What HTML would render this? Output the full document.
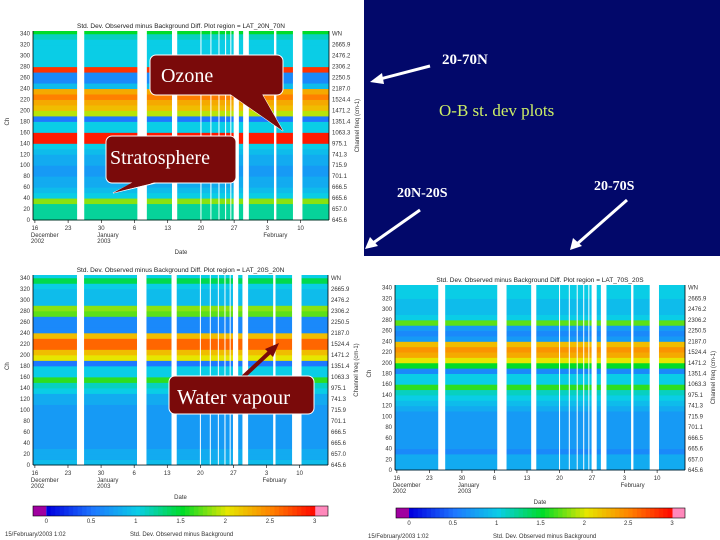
<!DOCTYPE html>
<html><head><meta charset="utf-8"><style>
html,body{margin:0;padding:0;background:#fff;}
svg{display:block;font-family:"Liberation Sans",sans-serif;}
.t{font-size:6px;fill:#333;}
</style></head><body>
<svg id="s" width="720" height="540" viewBox="0 0 720 540" xmlns="http://www.w3.org/2000/svg">
<rect x="0" y="0" width="720" height="540" fill="#fff"/>
<rect x="364" y="0" width="356" height="256" fill="#02086a"/>
<g id="plots"></g>
<g font-family="'Liberation Serif',serif" font-weight="bold">
<text x="442" y="64" font-size="15" fill="#fff">20-70N</text>
<text x="439" y="116" font-size="17" fill="#ccee66" font-weight="normal">O-B st. dev plots</text>
<text x="397" y="197" font-size="14" fill="#fff">20N-20S</text>
<text x="594" y="190" font-size="14" fill="#fff">20-70S</text>
</g>
<g stroke="#fff" stroke-width="3" fill="#fff">
<line x1="430" y1="66" x2="380" y2="79"/><polygon points="370,82 382,73 384,84" stroke="none"/>
<line x1="420" y1="210" x2="373" y2="243"/><polygon points="365,249 370,237 378,246" stroke="none"/>
<line x1="627" y1="200" x2="577" y2="244"/><polygon points="570,250 573,238 582,246" stroke="none"/>
</g>
<g font-family="'Liberation Serif',serif">
<polygon points="230,94 262,94 283,131" fill="#7a0a0a" stroke="#fff" stroke-width="1"/>
<rect x="150" y="55" width="133" height="40" rx="6" fill="#7a0a0a" stroke="#fff" stroke-width="1"/>
<polygon points="230,94 262,94 283,131" fill="#7a0a0a"/>
<text x="161" y="82" font-size="20" fill="#fff">Ozone</text>
<polygon points="135,182 160,182 113,193" fill="#7a0a0a" stroke="#fff" stroke-width="1"/>
<rect x="106" y="136" width="130" height="47" rx="6" fill="#7a0a0a" stroke="#fff" stroke-width="1"/>
<polygon points="135,181 160,181 113,193" fill="#7a0a0a"/>
<text x="110" y="164" font-size="20" fill="#fff">Stratosphere</text>
<line x1="242" y1="378" x2="272" y2="350" stroke="#7a0a0a" stroke-width="4"/>
<polygon points="279,343 265,349 273,357" fill="#7a0a0a"/>
<rect x="169" y="376" width="145" height="38" rx="6" fill="#7a0a0a" stroke="#fff" stroke-width="1"/>
<text x="177" y="404" font-size="21" fill="#fff">Water vapour</text>
</g>
</svg>
<script>
// channel bins (10 channels each, index 0 = channels 0-10), std dev values
const binsNorth=[1.2,1.2,1.2,1.8,1.0,0.9,0.8,0.8,0.7,0.7,0.8,0.8,0.9,1.0,2.9,2.9,1.0,1.0,0.5,1.9,2.2,2.3,2.5,2.3,0.9,0.6,0.6,2.8,1.0,1.0,1.0,1.0,1.0,1.1,1.5];
const binsTrop=[0.9,0.8,0.8,0.7,0.7,0.7,0.7,0.7,0.7,0.7,0.7,0.8,0.8,1.0,1.1,1.6,1.0,1.0,0.5,2.0,2.2,2.6,2.6,2.2,0.6,0.6,0.6,1.7,1.8,0.9,0.9,0.9,1.0,1.4,1.0];
const binsSouth=[0.8,0.8,0.8,0.6,0.7,0.7,0.7,0.7,0.7,0.7,0.7,0.8,0.9,1.0,1.1,1.6,1.0,1.0,0.6,1.5,2.0,2.3,2.4,2.2,0.7,0.6,0.7,1.7,1.0,0.9,0.9,0.9,1.0,1.0,1.0];
// data gaps in days since 16 Dec 2002
const gapStart=[8.9,21.6,28.9,34.9,37.0,38.7,40.1,41.2,41.9,43.9,50.4,54.4];
const gapEnd=[10.4,23.6,30.0,35.1,37.2,38.9,40.3,41.4,43.0,45.1,50.9,56.4];
const dayTicks=[0,7,14,21,28,35,42,49,56];
const dayLabels=["16","23","30","6","13","20","27","3","10"];
const chanTicks=[0,20,40,60,80,100,120,140,160,180,200,220,240,260,280,300,320,340];
const freqLabels=["645.6","657.0","665.6","666.5","701.1","715.9","741.3","975.1","1063.3","1351.4","1471.2","1524.4","2187.0","2250.5","2306.2","2476.2","2665.9","WN"];
const cbarTicks=[0,0.5,1,1.5,2,2.5,3];

const NS="http://www.w3.org/2000/svg";
const root=document.getElementById('plots');
function el(tag,attrs,parent){const e=document.createElementNS(NS,tag);for(const k in attrs)e.setAttribute(k,attrs[k]);(parent||root).appendChild(e);return e;}
const stops=[[0,[0,0,224]],[0.5,[30,120,255]],[1,[10,205,230]],[1.5,[0,220,40]],[2,[230,230,0]],[2.5,[255,128,0]],[3,[255,0,0]]];
function cmap(v){v=Math.max(0,Math.min(3,v));for(let i=1;i<stops.length;i++){if(v<=stops[i][0]){const a=stops[i-1],b=stops[i];const t=(v-a[0])/(b[0]-a[0]);const c=a[1].map((x,j)=>Math.round(x+(b[1][j]-x)*t));return 'rgb('+c.join(',')+')';}}return 'rgb(255,0,0)';}

function panel(cfg){
  const g=el('g',{});
  
  
  const {x0,x1,y0,y1}=cfg;
  const dMin=-0.4,dMax=62,cMax=345;
  const xs=d=>x0+(d-dMin)/(dMax-dMin)*(x1-x0);
  const ys=c=>y1-c/cMax*(y1-y0);
  const title=el('text',{x:(x0+x1)/2,y:y0-3,'text-anchor':'middle','font-size':6.5,fill:'#222'},g);
  title.textContent='Std. Dev. Observed minus Background Diff. Plot region = '+cfg.region;
  
  
  cfg.bins.forEach((v,i)=>{
    const top=Math.max(ys((i+1)*10),y0);
    const r=el('rect',{x:x0,y:top,width:x1-x0,height:ys(i*10)-top+0.5,fill:cmap(v)},g);
    
    
  });
  gapStart.forEach((s,i)=>{
    const r=el('rect',{x:xs(s),y:y0,width:Math.max(1,xs(gapEnd[i])-xs(s)),height:y1-y0,fill:'#fff'},g);
    
    
  });
  el('line',{x1:x0,y1:y1,x2:x1,y2:y1,stroke:'#000','stroke-width':0.8},g);
  el('line',{x1:x0,y1:y0,x2:x0,y2:y1,stroke:'#000','stroke-width':0.8},g);
  el('line',{x1:x1,y1:y0,x2:x1,y2:y1,stroke:'#000','stroke-width':0.8},g);
  chanTicks.forEach((c,i)=>{
    const t=el('text',{x:x0-3,y:ys(c)+2,'text-anchor':'end',class:'t'},g);t.textContent=String(c);
    
    
    const f=el('text',{x:x1+3,y:ys(c)+2,class:'t'},g);f.textContent=freqLabels[i];
    
    
  });
  dayTicks.forEach((d,i)=>{
    el('line',{x1:xs(d),y1:y1,x2:xs(d),y2:y1+3,stroke:'#000','stroke-width':0.6},g);
    const t=el('text',{x:xs(d),y:y1+10,'text-anchor':'middle',class:'t'},g);t.textContent=dayLabels[i];
    
    
  });
  [['December',0,'2002'],['January',14,'2003'],['February',49,'']].forEach(m=>{
    const t=el('text',{x:xs(m[1])-4,y:y1+17,class:'t'},g);t.textContent=m[0];
    if(m[2]){const u=el('text',{x:xs(m[1])-4,y:y1+23,class:'t'},g);u.textContent=m[2];}
  });
  const xl=el('text',{x:(x0+x1)/2,y:y1+34,'text-anchor':'middle',class:'t'},g);xl.textContent='Date';
  
  
  const yl=el('text',{x:x0-24,y:(y0+y1)/2,class:'t',transform:'rotate(-90 '+(x0-24)+' '+(y0+y1)/2+')'},g);yl.textContent='Ch';
  
  
  const rl=el('text',{x:x1+30,y:(y0+y1)/2,'text-anchor':'middle',class:'t',transform:'rotate(-90 '+(x1+30)+' '+(y0+y1)/2+')'},g);rl.textContent='Channel freq (cm-1)';
  
  
  if(cfg.cb){
    const cb=cfg.cb;
    const cg=el('g',{},g);
    
    
    const ins=(cb.x1-cb.x0)*0.045;
    el('rect',{x:cb.x0,y:cb.y,width:ins,height:10,fill:'#a000a0'},cg);
    el('rect',{x:cb.x1-ins,y:cb.y,width:ins,height:10,fill:'#ff88bb'},cg);
    const a=cb.x0+ins,b=cb.x1-ins,n=60;
    for(let i=0;i<n;i++){el('rect',{x:a+(b-a)*i/n,y:cb.y,width:(b-a)/n+0.5,height:10,fill:cmap(3*i/n)},cg);}
    el('rect',{x:cb.x0,y:cb.y,width:cb.x1-cb.x0,height:10,fill:'none',stroke:'#000','stroke-width':0.6},cg);
    cbarTicks.forEach(v=>{const t=el('text',{x:a+(b-a)*v/3,y:cb.y+17,'text-anchor':'middle',class:'t'},cg);t.textContent=String(v);});
    const f1=el('text',{x:cb.x0-28,y:cb.y+30,class:'t'},g);f1.textContent='15/February/2003 1:02';
    const f2=el('text',{x:cb.x0+97,y:cb.y+30,class:'t'},g);f2.textContent='Std. Dev. Observed minus Background';
  }
}
panel({name:'heatmap-20-70n',region:'LAT_20N_70N',bins:binsNorth,x0:33,x1:329,y0:31,y1:220});
panel({name:'heatmap-20n-20s',region:'LAT_20S_20N',bins:binsTrop,x0:33,x1:328,y0:275,y1:465,cb:{x0:33,x1:328,y:506}});
panel({name:'heatmap-20-70s',region:'LAT_70S_20S',bins:binsSouth,x0:395,x1:685,y0:285,y1:470,cb:{x0:396,x1:685,y:508}});
</script>
</body></html>
